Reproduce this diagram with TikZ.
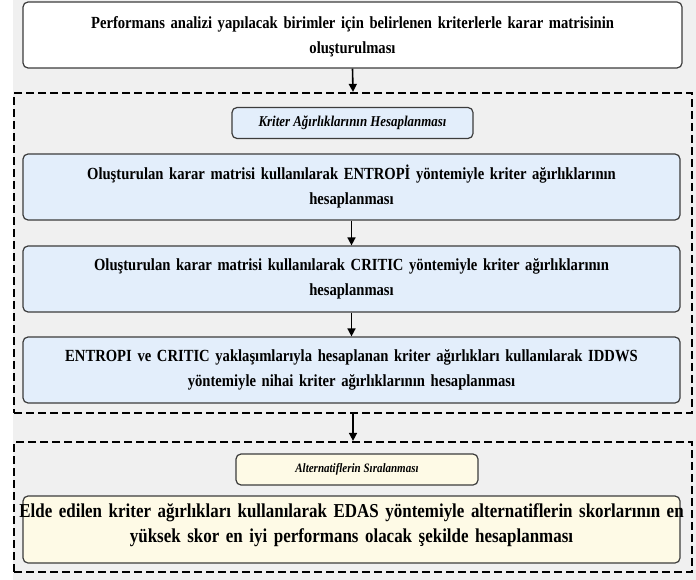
\documentclass[tikz,border=0pt]{standalone}
\usepackage{fontspec}
\setmainfont{Liberation Serif}[FakeStretch=0.86]
\usetikzlibrary{arrows.meta}
\definecolor{bg}{HTML}{F0F0F0}
\definecolor{bluefill}{HTML}{E3EEFB}
\definecolor{yelfill}{HTML}{FEFAE6}
\definecolor{edge}{HTML}{3C3C3C}
\tikzset{
  box/.style={draw=edge, line width=1.2pt, rounded corners=5pt, align=center, inner sep=0pt},
  mainbox/.style={box, fill=white, minimum width=659pt, minimum height=66pt},
  maintext/.style={align=center, text width=655pt, inner sep=0pt, font=\bfseries\fontsize{17}{25}\selectfont},
  bluebox/.style={box, fill=bluefill, text width=655pt, minimum width=657pt, minimum height=66pt, font=\bfseries\fontsize{17}{25}\selectfont},
  yelbox/.style={box, fill=yelfill, minimum width=657pt, minimum height=67pt},
  yeltext/.style={align=center, text width=690pt, inner sep=0pt, font=\bfseries\fontsize{19.7}{25}\selectfont},
  labbox/.style={box, minimum height=31pt},
  dbox/.style={draw=black, line width=2.2pt, dash pattern=on 8pt off 4pt, inner sep=0pt},
  arr/.style={line width=1.6pt, -{Triangle[length=8pt,width=8pt]}}
}
\begin{document}
\begin{tikzpicture}[x=1pt,y=-1pt]
\fill[bg] (0,0) rectangle (696,580);
\fill[white] (0,0) rectangle (13,580);
\useasboundingbox (0,0) rectangle (696,580);
\node[mainbox] (n1) at (352.5,35) {};
\node[maintext] (t1) at ([yshift=-2pt]n1.center) {Performans analizi yapılacak birimler için belirlenen kriterlerle karar matrisinin\\oluşturulması};
\node[dbox, minimum width=678pt, minimum height=320pt] (d1) at (353,253) {};
\node[labbox, fill=bluefill, minimum width=241pt, font=\bfseries\itshape\fontsize{15}{17}\selectfont] (l1) at (352.5,123) {Kriter Ağırlıklarının Hesaplanması};
\node[bluebox] (n2) at (351.5,187) {Oluşturulan karar matrisi kullanılarak ENTROPİ yöntemiyle kriter ağırlıklarının\\hesaplanması};
\node[bluebox] (n3) at (351.5,279) {Oluşturulan karar matrisi kullanılarak CRITIC yöntemiyle kriter ağırlıklarının\\hesaplanması};
\node[bluebox] (n4) at (351.5,370) {ENTROPI ve CRITIC yaklaşımlarıyla hesaplanan kriter ağırlıkları kullanılarak IDDWS\\yöntemiyle nihai kriter ağırlıklarının hesaplanması};
\node[dbox, minimum width=678pt, minimum height=130pt] (d2) at (353,507) {};
\node[labbox, fill=yelfill, minimum width=242pt, font=\bfseries\itshape\fontsize{12.8}{15}\selectfont] (l2) at (357,469.5) {Alternatiflerin Sıralanması};
\node[yelbox] (n5) at (351.5,529.5) {};
\node[yeltext] (t5) at ([yshift=4pt]n5.center) {Elde edilen kriter ağırlıkları kullanılarak EDAS yöntemiyle alternatiflerin skorlarının en\\yüksek skor en iyi performans olacak şekilde hesaplanması};
\draw[arr] (n1.south) -- (d1.north);
\draw[arr] (n2.south) -- (n3.north);
\draw[arr] (n3.south) -- (n4.north);
\draw[arr] (d1.south) -- (d2.north);
\end{tikzpicture}
\end{document}
